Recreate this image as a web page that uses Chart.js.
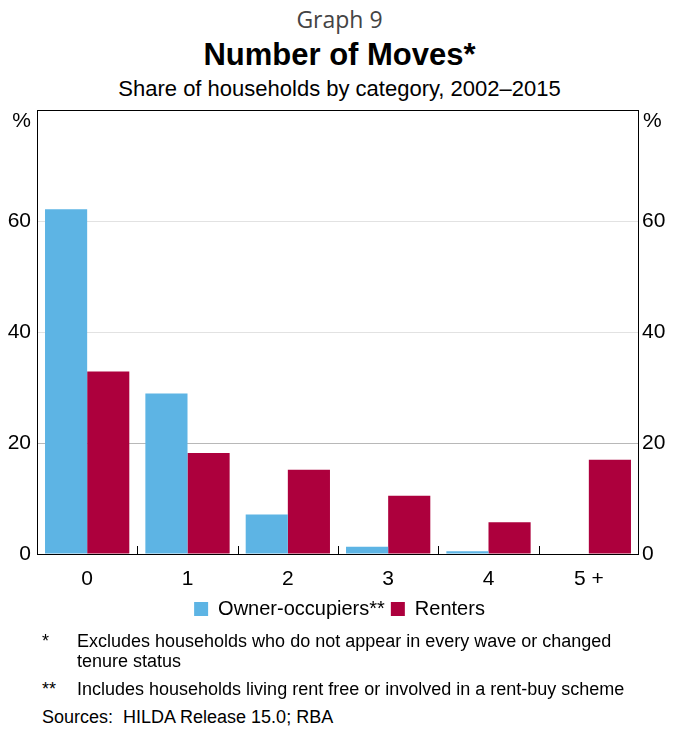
<!DOCTYPE html>
<html lang="en">
<head>
  <meta charset="UTF-8" />
  <title>Number of Moves</title>
  <script src="https://cdn.jsdelivr.net/npm/chart.js"></script>
  <style>
    body { margin: 0; width: 679px; height: 731px; position: relative; background: #fff; font-family: "Liberation Sans", Arial, sans-serif; color: #000; overflow: hidden; }
    .t { position: absolute; left: 0; width: 679px; text-align: center; white-space: nowrap; }
    #graphNo { top: 4px; font-family: "Open Sans", sans-serif; font-size: 23px; line-height: 31px; color: #444; }
    #title { top: 37px; font-size: 31px; line-height: 36px; font-weight: bold; }
    #subtitle { top: 76px; font-size: 22px; line-height: 26px; }
    #wrap { position: absolute; left: 0; top: 100px; width: 679px; height: 535px; }
    .note { position: absolute; font-size: 18px; white-space: nowrap; line-height: 20px; }
  </style>
</head>
<body>

  <div class="t" id="graphNo">Graph 9</div>
  <div class="t" id="title">Number of Moves*</div>
  <div class="t" id="subtitle">Share of households by category, 2002–2015</div>

  <div id="wrap"><canvas id="movesChart" width="679" height="535"></canvas></div>

  <div class="note" style="left:42px; top:631px;">*</div>
  <div class="note" style="left:77px; top:631px;">Excludes households who do not appear in every wave or changed<br>tenure status</div>
  <div class="note" style="left:42px; top:679px;">**</div>
  <div class="note" style="left:77px; top:679px;">Includes households living rent free or involved in a rent-buy scheme</div>
  <div class="note" style="left:42px; top:707px;">Sources:&nbsp; HILDA Release 15.0; RBA</div>

  <script>
    const categories = ['0', '1', '2', '3', '4', '5 +'];
    const ownerOccupiers = [62.1, 28.9, 7.1, 1.3, 0.5, 0];
    const renters = [32.9, 18.2, 15.2, 10.5, 5.7, 17.0];
    const yTicks = [0, 20, 40, 60, 80];

    const blue = '#5db4e4';
    const red = '#ad003d';
    const tickFont = { family: '"Liberation Sans", Arial, sans-serif', size: 21 };

    // frame, % labels and the little category ticks on the x axis
    const framePlugin = {
      id: 'frame',
      afterDatasetsDraw(chart) {
        const { ctx, chartArea: a, scales } = chart;
        ctx.save();
        ctx.strokeStyle = '#000';
        ctx.lineWidth = 1;
        ctx.strokeRect(Math.round(a.left) + 0.5, Math.round(a.top) + 0.5,
          Math.round(a.right - a.left) - 1, Math.round(a.bottom - a.top));
        for (let i = 1; i < categories.length; i++) {
          const x = Math.round((scales.x.getPixelForValue(i - 1) + scales.x.getPixelForValue(i)) / 2) + 0.5;
          ctx.beginPath();
          ctx.moveTo(x, a.bottom - 8);
          ctx.lineTo(x, a.bottom);
          ctx.stroke();
        }
        ctx.fillStyle = '#000';
        ctx.font = '21px "Liberation Sans", Arial, sans-serif';
        ctx.textBaseline = 'middle';
        ctx.textAlign = 'right';
        ctx.fillText('%', a.left - 6, a.top + 11);
        ctx.textAlign = 'left';
        ctx.fillText('%', a.right + 4, a.top + 11);
        ctx.restore();
      }
    };

    const gridColor = (c) => {
      const v = c.tick.value;
      if (v === 20) return '#b8b8b8';
      if (v === 40 || v === 60) return '#e2e2e2';
      return 'rgba(0,0,0,0)';
    };

    const fitY = (w) => (s) => { s.width = w; s.paddingTop = 0; s.paddingBottom = 0; };

    new Chart(document.getElementById('movesChart'), {
      type: 'bar',
      data: {
        labels: categories,
        datasets: [
          { label: 'Owner-occupiers**', data: ownerOccupiers, backgroundColor: blue, yAxisID: 'y' },
          { label: 'Renters', data: renters, backgroundColor: red, yAxisID: 'y' }
        ]
      },
      options: {
        responsive: false,
        animation: false,
        devicePixelRatio: 1,
        layout: { padding: { top: 10, left: 0, right: 0, bottom: 6 } },
        datasets: { bar: { categoryPercentage: 0.84, barPercentage: 1.0 } },
        scales: {
          x: {
            grid: { display: false },
            border: { display: false },
            ticks: { color: '#000', font: tickFont, padding: 5, maxRotation: 0 },
            afterFit(s) { s.height = 39; s.paddingLeft = 0; s.paddingRight = 0; }
          },
          y: {
            position: 'left',
            min: 0, max: 80,
            afterBuildTicks(s) { s.ticks = yTicks.map(v => ({ value: v })); },
            grid: { color: gridColor, drawTicks: false },
            border: { display: false },
            ticks: { color: '#000', font: tickFont, padding: 6, callback: v => (v === 80 ? '' : v) },
            afterFit: fitY(37)
          },
          y2: {
            position: 'right',
            min: 0, max: 80,
            afterBuildTicks(s) { s.ticks = yTicks.map(v => ({ value: v })); },
            grid: { display: false, drawTicks: false },
            border: { display: false },
            ticks: { color: '#000', font: tickFont, padding: 3, callback: v => (v === 80 ? '' : v) },
            afterFit: fitY(40)
          }
        },
        plugins: {
          legend: {
            position: 'bottom',
            labels: {
              color: '#000',
              font: { family: '"Liberation Sans", Arial, sans-serif', size: 20 },
              boxWidth: 14, boxHeight: 14, padding: 6
            }
          },
          tooltip: { enabled: false }
        }
      },
      plugins: [framePlugin]
    });
  </script>

</body>
</html>
